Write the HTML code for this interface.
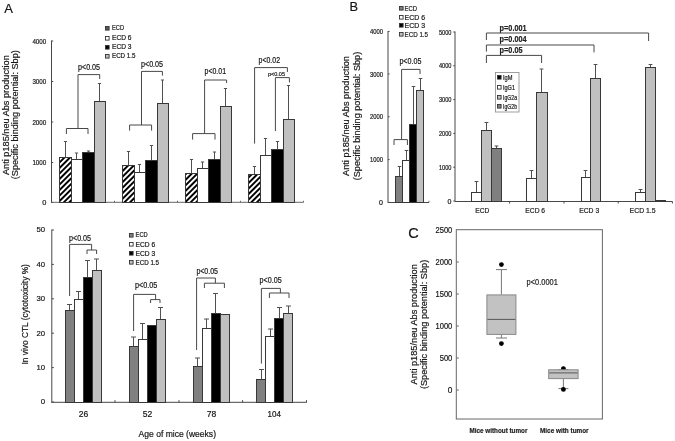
<!DOCTYPE html>
<html><head><meta charset="utf-8"><style>
html,body{margin:0;padding:0;background:#fff;}
svg{display:block;filter:blur(0.3px);}
text{font-family:"Liberation Sans", sans-serif;stroke:#222;stroke-width:0.2px;}
</style></head><body>
<svg width="675" height="441" viewBox="0 0 675 441">
<rect width="675" height="441" fill="#fff"/>
<text x="4.3" y="13.1" font-size="13" text-anchor="start" fill="#111">A</text>
<line x1="51.5" y1="40.5" x2="51.5" y2="203" stroke="#484848" stroke-width="1"/>
<line x1="51.5" y1="41" x2="53.2" y2="41" stroke="#484848" stroke-width="1"/>
<text x="46.3" y="43.6" font-size="7.4" text-anchor="end" textLength="13.9" lengthAdjust="spacingAndGlyphs" fill="#111">4000</text>
<line x1="51.5" y1="81.5" x2="53.2" y2="81.5" stroke="#484848" stroke-width="1"/>
<text x="46.3" y="84.1" font-size="7.4" text-anchor="end" textLength="13.9" lengthAdjust="spacingAndGlyphs" fill="#111">3000</text>
<line x1="51.5" y1="122" x2="53.2" y2="122" stroke="#484848" stroke-width="1"/>
<text x="46.3" y="124.6" font-size="7.4" text-anchor="end" textLength="13.9" lengthAdjust="spacingAndGlyphs" fill="#111">2000</text>
<line x1="51.5" y1="162.5" x2="53.2" y2="162.5" stroke="#484848" stroke-width="1"/>
<text x="46.3" y="165.1" font-size="7.4" text-anchor="end" textLength="13.9" lengthAdjust="spacingAndGlyphs" fill="#111">1000</text>
<line x1="51.5" y1="202.5" x2="53.2" y2="202.5" stroke="#484848" stroke-width="1"/>
<text x="46.3" y="205.1" font-size="7.4" text-anchor="end" fill="#111">0</text>
<line x1="51.5" y1="202.3" x2="303.5" y2="202.3" stroke="#666" stroke-width="1"/>
<line x1="114.5" y1="202.3" x2="114.5" y2="200.8" stroke="#666" stroke-width="1"/>
<line x1="177.5" y1="202.3" x2="177.5" y2="200.8" stroke="#666" stroke-width="1"/>
<line x1="240.5" y1="202.3" x2="240.5" y2="200.8" stroke="#666" stroke-width="1"/>
<line x1="303.5" y1="202.3" x2="303.5" y2="200.8" stroke="#666" stroke-width="1"/>
<defs><pattern id="hatch" patternUnits="userSpaceOnUse" width="3.9" height="3.9" patternTransform="rotate(45)"><rect width="3.9" height="3.9" fill="#fff"/><rect width="1.95" height="3.9" fill="#000"/></pattern></defs>
<rect x="59.5" y="157.5" width="12" height="45.0" fill="url(#hatch)" stroke="#383838" stroke-width="1"/>
<rect x="71.5" y="159.5" width="11" height="43.0" fill="#ffffff" stroke="#383838" stroke-width="1"/>
<rect x="82.5" y="152.5" width="12" height="50.0" fill="#000000" stroke="#383838" stroke-width="1"/>
<rect x="94.5" y="101.5" width="11" height="101.0" fill="#c0c0c0" stroke="#383838" stroke-width="1"/>
<line x1="65.5" y1="157" x2="65.5" y2="141.5" stroke="#505050" stroke-width="1"/>
<line x1="63.9" y1="141.5" x2="67.1" y2="141.5" stroke="#505050" stroke-width="1"/>
<line x1="76.5" y1="159" x2="76.5" y2="153.0" stroke="#505050" stroke-width="1"/>
<line x1="74.9" y1="153.0" x2="78.1" y2="153.0" stroke="#505050" stroke-width="1"/>
<line x1="88.5" y1="152" x2="88.5" y2="151.0" stroke="#505050" stroke-width="1"/>
<line x1="86.9" y1="151.0" x2="90.1" y2="151.0" stroke="#505050" stroke-width="1"/>
<line x1="99.5" y1="101" x2="99.5" y2="83.5" stroke="#505050" stroke-width="1"/>
<line x1="97.9" y1="83.5" x2="101.1" y2="83.5" stroke="#505050" stroke-width="1"/>
<rect x="122.5" y="165.5" width="12" height="37.0" fill="url(#hatch)" stroke="#383838" stroke-width="1"/>
<rect x="134.5" y="172.5" width="11" height="30.0" fill="#ffffff" stroke="#383838" stroke-width="1"/>
<rect x="145.5" y="160.5" width="12" height="42.0" fill="#000000" stroke="#383838" stroke-width="1"/>
<rect x="157.5" y="103.5" width="11" height="99.0" fill="#c0c0c0" stroke="#383838" stroke-width="1"/>
<line x1="128.5" y1="165" x2="128.5" y2="151.5" stroke="#505050" stroke-width="1"/>
<line x1="126.9" y1="151.5" x2="130.1" y2="151.5" stroke="#505050" stroke-width="1"/>
<line x1="139.5" y1="172" x2="139.5" y2="164.5" stroke="#505050" stroke-width="1"/>
<line x1="137.9" y1="164.5" x2="141.1" y2="164.5" stroke="#505050" stroke-width="1"/>
<line x1="151.5" y1="160" x2="151.5" y2="145.5" stroke="#505050" stroke-width="1"/>
<line x1="149.9" y1="145.5" x2="153.1" y2="145.5" stroke="#505050" stroke-width="1"/>
<line x1="162.5" y1="103" x2="162.5" y2="80.0" stroke="#505050" stroke-width="1"/>
<line x1="160.9" y1="80.0" x2="164.1" y2="80.0" stroke="#505050" stroke-width="1"/>
<rect x="185.5" y="173.5" width="12" height="29.0" fill="url(#hatch)" stroke="#383838" stroke-width="1"/>
<rect x="197.5" y="168.5" width="11" height="34.0" fill="#ffffff" stroke="#383838" stroke-width="1"/>
<rect x="208.5" y="159.5" width="12" height="43.0" fill="#000000" stroke="#383838" stroke-width="1"/>
<rect x="220.5" y="106.5" width="11" height="96.0" fill="#c0c0c0" stroke="#383838" stroke-width="1"/>
<line x1="191.5" y1="173" x2="191.5" y2="159.5" stroke="#505050" stroke-width="1"/>
<line x1="189.9" y1="159.5" x2="193.1" y2="159.5" stroke="#505050" stroke-width="1"/>
<line x1="202.5" y1="168" x2="202.5" y2="162.0" stroke="#505050" stroke-width="1"/>
<line x1="200.9" y1="162.0" x2="204.1" y2="162.0" stroke="#505050" stroke-width="1"/>
<line x1="214.5" y1="159" x2="214.5" y2="152.0" stroke="#505050" stroke-width="1"/>
<line x1="212.9" y1="152.0" x2="216.1" y2="152.0" stroke="#505050" stroke-width="1"/>
<line x1="225.5" y1="106" x2="225.5" y2="88.5" stroke="#505050" stroke-width="1"/>
<line x1="223.9" y1="88.5" x2="227.1" y2="88.5" stroke="#505050" stroke-width="1"/>
<rect x="248.5" y="174.5" width="12" height="28.0" fill="url(#hatch)" stroke="#383838" stroke-width="1"/>
<rect x="260.5" y="155.5" width="11" height="47.0" fill="#ffffff" stroke="#383838" stroke-width="1"/>
<rect x="271.5" y="149.5" width="12" height="53.0" fill="#000000" stroke="#383838" stroke-width="1"/>
<rect x="283.5" y="119.5" width="11" height="83.0" fill="#c0c0c0" stroke="#383838" stroke-width="1"/>
<line x1="254.5" y1="174" x2="254.5" y2="166.5" stroke="#505050" stroke-width="1"/>
<line x1="252.9" y1="166.5" x2="256.1" y2="166.5" stroke="#505050" stroke-width="1"/>
<line x1="265.5" y1="155" x2="265.5" y2="138.5" stroke="#505050" stroke-width="1"/>
<line x1="263.9" y1="138.5" x2="267.1" y2="138.5" stroke="#505050" stroke-width="1"/>
<line x1="277.5" y1="149" x2="277.5" y2="141.5" stroke="#505050" stroke-width="1"/>
<line x1="275.9" y1="141.5" x2="279.1" y2="141.5" stroke="#505050" stroke-width="1"/>
<line x1="288.5" y1="119" x2="288.5" y2="85.5" stroke="#505050" stroke-width="1"/>
<line x1="286.9" y1="85.5" x2="290.1" y2="85.5" stroke="#505050" stroke-width="1"/>
<polyline points="66.4,134 66.4,128.5 88,128.5 88,134" fill="none" stroke="#484848" stroke-width="1"/>
<line x1="78" y1="128.5" x2="78" y2="74.6" stroke="#484848" stroke-width="1"/>
<polyline points="78,74.6 99.7,74.6 99.7,79" fill="none" stroke="#484848" stroke-width="1"/>
<text x="78" y="69.7" font-size="8.3" text-anchor="start" textLength="22" lengthAdjust="spacingAndGlyphs" fill="#111">p&lt;0.05</text>
<polyline points="129.6,130.6 129.6,125 151.6,125 151.6,130.6" fill="none" stroke="#484848" stroke-width="1"/>
<line x1="141.5" y1="125" x2="141.5" y2="71.4" stroke="#484848" stroke-width="1"/>
<polyline points="141.5,71.4 162.4,71.4 162.4,75.6" fill="none" stroke="#484848" stroke-width="1"/>
<text x="141" y="67.2" font-size="8.3" text-anchor="start" textLength="22" lengthAdjust="spacingAndGlyphs" fill="#111">p&lt;0.05</text>
<polyline points="192.6,139.6 192.6,133.6 215,133.6 215,139.6" fill="none" stroke="#484848" stroke-width="1"/>
<line x1="204.6" y1="133.6" x2="204.6" y2="80" stroke="#484848" stroke-width="1"/>
<polyline points="204.6,80 226.6,80 226.6,83" fill="none" stroke="#484848" stroke-width="1"/>
<text x="204.6" y="74.2" font-size="8.3" text-anchor="start" textLength="21.4" lengthAdjust="spacingAndGlyphs" fill="#111">p&lt;0.01</text>
<line x1="254.6" y1="143.6" x2="254.6" y2="67.6" stroke="#484848" stroke-width="1"/>
<polyline points="254.6,67.6 287.4,67.6 287.4,72" fill="none" stroke="#484848" stroke-width="1"/>
<text x="258.6" y="62.6" font-size="8.3" text-anchor="start" textLength="21.4" lengthAdjust="spacingAndGlyphs" fill="#111">p&lt;0.02</text>
<line x1="275.4" y1="131" x2="275.4" y2="77.6" stroke="#484848" stroke-width="1"/>
<polyline points="275.4,77.6 289.4,77.6 289.4,82.4" fill="none" stroke="#484848" stroke-width="1"/>
<text x="268" y="75.8" font-size="6" text-anchor="start" textLength="17" lengthAdjust="spacingAndGlyphs" fill="#111">p&lt;0.05</text>
<rect x="105.5" y="26.5" width="3.6" height="3.6" fill="#5a5a5a" stroke="#333" stroke-width="0.9"/>
<text x="112" y="30.1" font-size="6.6" text-anchor="start" textLength="12" lengthAdjust="spacingAndGlyphs" fill="#111">ECD</text>
<rect x="105.5" y="36.5" width="3.6" height="3.6" fill="#fff" stroke="#333" stroke-width="0.9"/>
<text x="112" y="39.5" font-size="6.6" text-anchor="start" textLength="19.5" lengthAdjust="spacingAndGlyphs" fill="#111">ECD 6</text>
<rect x="105.5" y="45.5" width="3.6" height="3.6" fill="#000" stroke="#333" stroke-width="0.9"/>
<text x="112" y="49.1" font-size="6.6" text-anchor="start" textLength="19.5" lengthAdjust="spacingAndGlyphs" fill="#111">ECD 3</text>
<rect x="105.5" y="54.5" width="3.6" height="3.6" fill="#c0c0c0" stroke="#333" stroke-width="0.9"/>
<text x="112" y="58.1" font-size="6.6" text-anchor="start" textLength="23.4" lengthAdjust="spacingAndGlyphs" fill="#111">ECD 1.5</text>
<text transform="translate(8.9,175) scale(1.0,1) rotate(-90)" x="0" y="0" font-size="9.2" textLength="119.8" lengthAdjust="spacingAndGlyphs" fill="#111">Anti p185/neu Abs production</text>
<text transform="translate(18.3,179.3) scale(1.0,1) rotate(-90)" x="0" y="0" font-size="9.2" textLength="129.2" lengthAdjust="spacingAndGlyphs" fill="#111">(Specific binding potential: Sbp)</text>
<line x1="51.8" y1="229.5" x2="51.8" y2="402.8" stroke="#484848" stroke-width="1"/>
<line x1="51.8" y1="230" x2="53.9" y2="230" stroke="#484848" stroke-width="1"/>
<text x="45.1" y="232.3" font-size="7.9" text-anchor="end" textLength="8.6" lengthAdjust="spacingAndGlyphs" fill="#111">50</text>
<line x1="51.8" y1="264.4" x2="53.9" y2="264.4" stroke="#484848" stroke-width="1"/>
<text x="45.1" y="266.7" font-size="7.9" text-anchor="end" textLength="8.6" lengthAdjust="spacingAndGlyphs" fill="#111">40</text>
<line x1="51.8" y1="298.8" x2="53.9" y2="298.8" stroke="#484848" stroke-width="1"/>
<text x="45.1" y="301.1" font-size="7.9" text-anchor="end" textLength="8.6" lengthAdjust="spacingAndGlyphs" fill="#111">30</text>
<line x1="51.8" y1="333.2" x2="53.9" y2="333.2" stroke="#484848" stroke-width="1"/>
<text x="45.1" y="335.5" font-size="7.9" text-anchor="end" textLength="8.6" lengthAdjust="spacingAndGlyphs" fill="#111">20</text>
<line x1="51.8" y1="367.6" x2="53.9" y2="367.6" stroke="#484848" stroke-width="1"/>
<text x="45.1" y="369.90000000000003" font-size="7.9" text-anchor="end" textLength="8.6" lengthAdjust="spacingAndGlyphs" fill="#111">10</text>
<line x1="51.8" y1="402" x2="53.9" y2="402" stroke="#484848" stroke-width="1"/>
<text x="45.1" y="404.3" font-size="7.9" text-anchor="end" fill="#111">0</text>
<line x1="51.8" y1="402.3" x2="306.8" y2="402.3" stroke="#484848" stroke-width="1"/>
<line x1="115" y1="402.3" x2="115" y2="400.2" stroke="#484848" stroke-width="1"/>
<line x1="179" y1="402.3" x2="179" y2="400.2" stroke="#484848" stroke-width="1"/>
<line x1="242.6" y1="402.3" x2="242.6" y2="400.2" stroke="#484848" stroke-width="1"/>
<line x1="306.5" y1="402.3" x2="306.5" y2="400.2" stroke="#484848" stroke-width="1"/>
<rect x="65.5" y="310.5" width="9" height="92.0" fill="#808080" stroke="#383838" stroke-width="1"/>
<rect x="74.5" y="299.5" width="9" height="103.0" fill="#fff" stroke="#383838" stroke-width="1"/>
<rect x="83.5" y="277.5" width="9" height="125.0" fill="#000" stroke="#383838" stroke-width="1"/>
<rect x="92.5" y="270.5" width="9" height="132.0" fill="#c0c0c0" stroke="#383838" stroke-width="1"/>
<line x1="69.5" y1="310" x2="69.5" y2="304.5" stroke="#505050" stroke-width="1"/>
<line x1="67.0" y1="304.5" x2="72.0" y2="304.5" stroke="#505050" stroke-width="1"/>
<line x1="78.5" y1="299" x2="78.5" y2="291.5" stroke="#505050" stroke-width="1"/>
<line x1="76.0" y1="291.5" x2="81.0" y2="291.5" stroke="#505050" stroke-width="1"/>
<line x1="87.5" y1="277" x2="87.5" y2="260.5" stroke="#505050" stroke-width="1"/>
<line x1="85.0" y1="260.5" x2="90.0" y2="260.5" stroke="#505050" stroke-width="1"/>
<line x1="96.5" y1="270" x2="96.5" y2="259.0" stroke="#505050" stroke-width="1"/>
<line x1="94.0" y1="259.0" x2="99.0" y2="259.0" stroke="#505050" stroke-width="1"/>
<rect x="129.5" y="346.5" width="9" height="56.0" fill="#808080" stroke="#383838" stroke-width="1"/>
<rect x="138.5" y="339.5" width="9" height="63.0" fill="#fff" stroke="#383838" stroke-width="1"/>
<rect x="147.5" y="325.5" width="9" height="77.0" fill="#000" stroke="#383838" stroke-width="1"/>
<rect x="156.5" y="319.5" width="9" height="83.0" fill="#c0c0c0" stroke="#383838" stroke-width="1"/>
<line x1="133.5" y1="346" x2="133.5" y2="337.0" stroke="#505050" stroke-width="1"/>
<line x1="131.0" y1="337.0" x2="136.0" y2="337.0" stroke="#505050" stroke-width="1"/>
<line x1="142.5" y1="339" x2="142.5" y2="323.5" stroke="#505050" stroke-width="1"/>
<line x1="140.0" y1="323.5" x2="145.0" y2="323.5" stroke="#505050" stroke-width="1"/>
<line x1="160.5" y1="319" x2="160.5" y2="307.5" stroke="#505050" stroke-width="1"/>
<line x1="158.0" y1="307.5" x2="163.0" y2="307.5" stroke="#505050" stroke-width="1"/>
<rect x="193.5" y="366.5" width="9" height="36.0" fill="#808080" stroke="#383838" stroke-width="1"/>
<rect x="202.5" y="328.5" width="9" height="74.0" fill="#fff" stroke="#383838" stroke-width="1"/>
<rect x="211.5" y="313.5" width="9" height="89.0" fill="#000" stroke="#383838" stroke-width="1"/>
<rect x="220.5" y="314.5" width="9" height="88.0" fill="#c0c0c0" stroke="#383838" stroke-width="1"/>
<line x1="197.5" y1="366" x2="197.5" y2="358.0" stroke="#505050" stroke-width="1"/>
<line x1="195.0" y1="358.0" x2="200.0" y2="358.0" stroke="#505050" stroke-width="1"/>
<line x1="206.5" y1="328" x2="206.5" y2="319.0" stroke="#505050" stroke-width="1"/>
<line x1="204.0" y1="319.0" x2="209.0" y2="319.0" stroke="#505050" stroke-width="1"/>
<line x1="215.5" y1="313" x2="215.5" y2="293.5" stroke="#505050" stroke-width="1"/>
<line x1="213.0" y1="293.5" x2="218.0" y2="293.5" stroke="#505050" stroke-width="1"/>
<rect x="256.5" y="379.5" width="9" height="23.0" fill="#808080" stroke="#383838" stroke-width="1"/>
<rect x="265.5" y="336.5" width="9" height="66.0" fill="#fff" stroke="#383838" stroke-width="1"/>
<rect x="274.5" y="318.5" width="9" height="84.0" fill="#000" stroke="#383838" stroke-width="1"/>
<rect x="283.5" y="313.5" width="9" height="89.0" fill="#c0c0c0" stroke="#383838" stroke-width="1"/>
<line x1="261.5" y1="379" x2="261.5" y2="369.5" stroke="#505050" stroke-width="1"/>
<line x1="259.0" y1="369.5" x2="264.0" y2="369.5" stroke="#505050" stroke-width="1"/>
<line x1="270.5" y1="336" x2="270.5" y2="329.0" stroke="#505050" stroke-width="1"/>
<line x1="268.0" y1="329.0" x2="273.0" y2="329.0" stroke="#505050" stroke-width="1"/>
<line x1="279.5" y1="318" x2="279.5" y2="307.5" stroke="#505050" stroke-width="1"/>
<line x1="277.0" y1="307.5" x2="282.0" y2="307.5" stroke="#505050" stroke-width="1"/>
<line x1="288.5" y1="313" x2="288.5" y2="306.0" stroke="#505050" stroke-width="1"/>
<line x1="286.0" y1="306.0" x2="291.0" y2="306.0" stroke="#505050" stroke-width="1"/>
<text x="69" y="241.2" font-size="8.3" text-anchor="start" textLength="22" lengthAdjust="spacingAndGlyphs" fill="#111">p&lt;0.05</text>
<polyline points="69.6,296 69.6,244.4 91.6,244.4 91.6,250" fill="none" stroke="#484848" stroke-width="1"/>
<polyline points="87,254 87,250 96.6,250 96.6,254" fill="none" stroke="#484848" stroke-width="1"/>
<text x="135" y="288.4" font-size="8.3" text-anchor="start" textLength="22.400000000000006" lengthAdjust="spacingAndGlyphs" fill="#111">p&lt;0.05</text>
<polyline points="133.6,331 133.6,294.4 155.6,294.4 155.6,299.6" fill="none" stroke="#484848" stroke-width="1"/>
<polyline points="150.6,303 150.6,299.6 160,299.6 160,303" fill="none" stroke="#484848" stroke-width="1"/>
<text x="196.4" y="274.4" font-size="8.3" text-anchor="start" textLength="21.599999999999994" lengthAdjust="spacingAndGlyphs" fill="#111">p&lt;0.05</text>
<polyline points="196.6,350 196.6,278 215.4,278 215.4,283.2" fill="none" stroke="#484848" stroke-width="1"/>
<polyline points="204.4,288 204.4,283.2 224.4,283.2 224.4,288" fill="none" stroke="#484848" stroke-width="1"/>
<text x="259.6" y="283.4" font-size="8.3" text-anchor="start" textLength="22.0" lengthAdjust="spacingAndGlyphs" fill="#111">p&lt;0.05</text>
<polyline points="261.4,363.6 261.4,288.4 280.4,288.4 280.4,293" fill="none" stroke="#484848" stroke-width="1"/>
<polyline points="269.4,298 269.4,293 289,293 289,298" fill="none" stroke="#484848" stroke-width="1"/>
<rect x="129.5" y="233.5" width="3.6" height="3.6" fill="#808080" stroke="#333" stroke-width="0.9"/>
<text x="135.6" y="237.3" font-size="6.6" text-anchor="start" textLength="12" lengthAdjust="spacingAndGlyphs" fill="#111">ECD</text>
<rect x="129.5" y="242.5" width="3.6" height="3.6" fill="#fff" stroke="#333" stroke-width="0.9"/>
<text x="135.6" y="246.5" font-size="6.6" text-anchor="start" textLength="19.5" lengthAdjust="spacingAndGlyphs" fill="#111">ECD 6</text>
<rect x="129.5" y="251.5" width="3.6" height="3.6" fill="#000" stroke="#333" stroke-width="0.9"/>
<text x="135.6" y="255.7" font-size="6.6" text-anchor="start" textLength="19.5" lengthAdjust="spacingAndGlyphs" fill="#111">ECD 3</text>
<rect x="129.5" y="260.5" width="3.6" height="3.6" fill="#c0c0c0" stroke="#333" stroke-width="0.9"/>
<text x="135.6" y="264.9" font-size="6.6" text-anchor="start" textLength="23.4" lengthAdjust="spacingAndGlyphs" fill="#111">ECD 1.5</text>
<text transform="translate(27.6,364.6) scale(1.0,1) rotate(-90)" x="0" y="0" font-size="8.9" textLength="100.5" lengthAdjust="spacingAndGlyphs" fill="#111">In vivo CTL (cytotoxicity %)</text>
<text x="78.7" y="417.2" font-size="8.6" text-anchor="start" textLength="9.5" lengthAdjust="spacingAndGlyphs" fill="#111">26</text>
<text x="142.7" y="417.2" font-size="8.6" text-anchor="start" textLength="9.5" lengthAdjust="spacingAndGlyphs" fill="#111">52</text>
<text x="206.7" y="417.2" font-size="8.6" text-anchor="start" textLength="9.5" lengthAdjust="spacingAndGlyphs" fill="#111">78</text>
<text x="267.5" y="417.2" font-size="8.6" text-anchor="start" textLength="13.4" lengthAdjust="spacingAndGlyphs" fill="#111">104</text>
<text x="138.6" y="437" font-size="9" text-anchor="start" textLength="77.4" lengthAdjust="spacingAndGlyphs" fill="#111">Age of mice (weeks)</text>
<text x="349.6" y="10.9" font-size="12.8" text-anchor="start" fill="#111">B</text>
<line x1="388" y1="31" x2="388" y2="202.8" stroke="#484848" stroke-width="1"/>
<line x1="388" y1="31.4" x2="389.6" y2="31.4" stroke="#484848" stroke-width="1"/>
<text x="383" y="33.9" font-size="7" text-anchor="end" textLength="13" lengthAdjust="spacingAndGlyphs" fill="#111">4000</text>
<line x1="388" y1="74" x2="389.6" y2="74" stroke="#484848" stroke-width="1"/>
<text x="383" y="76.5" font-size="7" text-anchor="end" textLength="13" lengthAdjust="spacingAndGlyphs" fill="#111">3000</text>
<line x1="388" y1="116.8" x2="389.6" y2="116.8" stroke="#484848" stroke-width="1"/>
<text x="383" y="119.3" font-size="7" text-anchor="end" textLength="13" lengthAdjust="spacingAndGlyphs" fill="#111">2000</text>
<line x1="388" y1="159.6" x2="389.6" y2="159.6" stroke="#484848" stroke-width="1"/>
<text x="383" y="162.1" font-size="7" text-anchor="end" textLength="13" lengthAdjust="spacingAndGlyphs" fill="#111">1000</text>
<line x1="388" y1="202.4" x2="389.6" y2="202.4" stroke="#484848" stroke-width="1"/>
<text x="383" y="204.9" font-size="7" text-anchor="end" fill="#111">0</text>
<line x1="388" y1="202.5" x2="429" y2="202.5" stroke="#484848" stroke-width="1"/>
<line x1="429" y1="202.3" x2="429" y2="200.8" stroke="#666" stroke-width="1"/>
<rect x="395.5" y="176.5" width="7" height="26.0" fill="#808080" stroke="#383838" stroke-width="1"/>
<rect x="402.5" y="160.5" width="7" height="42.0" fill="#fff" stroke="#383838" stroke-width="1"/>
<rect x="409.5" y="124.5" width="7" height="78.0" fill="#000" stroke="#383838" stroke-width="1"/>
<rect x="416.5" y="90.5" width="7" height="112.0" fill="#c0c0c0" stroke="#383838" stroke-width="1"/>
<line x1="399.5" y1="176" x2="399.5" y2="166.5" stroke="#505050" stroke-width="1"/>
<line x1="397.7" y1="166.5" x2="401.3" y2="166.5" stroke="#505050" stroke-width="1"/>
<line x1="406.5" y1="160" x2="406.5" y2="150.5" stroke="#505050" stroke-width="1"/>
<line x1="404.7" y1="150.5" x2="408.3" y2="150.5" stroke="#505050" stroke-width="1"/>
<line x1="413.5" y1="124" x2="413.5" y2="86.5" stroke="#505050" stroke-width="1"/>
<line x1="411.7" y1="86.5" x2="415.3" y2="86.5" stroke="#505050" stroke-width="1"/>
<line x1="420.5" y1="90" x2="420.5" y2="78.5" stroke="#505050" stroke-width="1"/>
<line x1="418.7" y1="78.5" x2="422.3" y2="78.5" stroke="#505050" stroke-width="1"/>
<polyline points="394,145 394,139.6 407.4,139.6 407.4,145" fill="none" stroke="#484848" stroke-width="1"/>
<line x1="401.6" y1="139.6" x2="401.6" y2="69.4" stroke="#484848" stroke-width="1"/>
<polyline points="401.6,69.4 420,69.4 420,74" fill="none" stroke="#484848" stroke-width="1"/>
<text x="399.4" y="64.3" font-size="8.3" text-anchor="start" textLength="22" lengthAdjust="spacingAndGlyphs" fill="#111">p&lt;0.05</text>
<rect x="399.5" y="6.5" width="3.6" height="3.6" fill="#808080" stroke="#333" stroke-width="0.9"/>
<text x="404.6" y="10.9" font-size="7.5" text-anchor="start" textLength="12.5" lengthAdjust="spacingAndGlyphs" fill="#111">ECD</text>
<rect x="399.5" y="15.5" width="3.6" height="3.6" fill="#fff" stroke="#333" stroke-width="0.9"/>
<text x="404.6" y="20.1" font-size="7.5" text-anchor="start" textLength="20.5" lengthAdjust="spacingAndGlyphs" fill="#111">ECD 6</text>
<rect x="399.5" y="23.5" width="3.6" height="3.6" fill="#000" stroke="#333" stroke-width="0.9"/>
<text x="404.6" y="28.1" font-size="7.5" text-anchor="start" textLength="20.5" lengthAdjust="spacingAndGlyphs" fill="#111">ECD 3</text>
<rect x="399.5" y="32.5" width="3.6" height="3.6" fill="#c0c0c0" stroke="#333" stroke-width="0.9"/>
<text x="404.6" y="36.5" font-size="7.5" text-anchor="start" textLength="23.4" lengthAdjust="spacingAndGlyphs" fill="#111">ECD 1.5</text>
<text transform="translate(349.4,175.9) scale(1.0,1) rotate(-90)" x="0" y="0" font-size="9.2" textLength="119.8" lengthAdjust="spacingAndGlyphs" fill="#111">Anti p185/neu Abs production</text>
<text transform="translate(359.9,180.3) scale(1.0,1) rotate(-90)" x="0" y="0" font-size="9.2" textLength="128.5" lengthAdjust="spacingAndGlyphs" fill="#111">(Specific binding potential: Sbp)</text>
<line x1="455" y1="31.5" x2="455" y2="201.5" stroke="#484848" stroke-width="1"/>
<line x1="453.3" y1="32" x2="455" y2="32" stroke="#484848" stroke-width="1"/>
<text x="451.5" y="34.5" font-size="7" text-anchor="end" textLength="12.5" lengthAdjust="spacingAndGlyphs" fill="#111">5000</text>
<line x1="453.3" y1="65.8" x2="455" y2="65.8" stroke="#484848" stroke-width="1"/>
<text x="451.5" y="68.3" font-size="7" text-anchor="end" textLength="12.5" lengthAdjust="spacingAndGlyphs" fill="#111">4000</text>
<line x1="453.3" y1="99.6" x2="455" y2="99.6" stroke="#484848" stroke-width="1"/>
<text x="451.5" y="102.1" font-size="7" text-anchor="end" textLength="12.5" lengthAdjust="spacingAndGlyphs" fill="#111">3000</text>
<line x1="453.3" y1="133.4" x2="455" y2="133.4" stroke="#484848" stroke-width="1"/>
<text x="451.5" y="135.9" font-size="7" text-anchor="end" textLength="12.5" lengthAdjust="spacingAndGlyphs" fill="#111">2000</text>
<line x1="453.3" y1="167.2" x2="455" y2="167.2" stroke="#484848" stroke-width="1"/>
<text x="451.5" y="169.7" font-size="7" text-anchor="end" textLength="12.5" lengthAdjust="spacingAndGlyphs" fill="#111">1000</text>
<line x1="453.3" y1="201" x2="455" y2="201" stroke="#484848" stroke-width="1"/>
<text x="451.5" y="203.5" font-size="7" text-anchor="end" fill="#111">0</text>
<line x1="455" y1="201.5" x2="672.5" y2="201.5" stroke="#484848" stroke-width="1"/>
<line x1="509.6" y1="201.5" x2="509.6" y2="203.5" stroke="#484848" stroke-width="1"/>
<line x1="564" y1="201.5" x2="564" y2="203.5" stroke="#484848" stroke-width="1"/>
<line x1="618.2" y1="201.5" x2="618.2" y2="203.5" stroke="#484848" stroke-width="1"/>
<line x1="672.4" y1="201.5" x2="672.4" y2="203.5" stroke="#484848" stroke-width="1"/>
<rect x="471.5" y="192.5" width="10" height="9.0" fill="#fff" stroke="#383838" stroke-width="1"/>
<rect x="481.5" y="130.5" width="10" height="71.0" fill="#c0c0c0" stroke="#383838" stroke-width="1"/>
<rect x="491.5" y="148.5" width="10" height="53.0" fill="#808080" stroke="#383838" stroke-width="1"/>
<rect x="526.5" y="178.5" width="10" height="23.0" fill="#fff" stroke="#383838" stroke-width="1"/>
<rect x="536.5" y="92.5" width="11" height="109.0" fill="#c0c0c0" stroke="#383838" stroke-width="1"/>
<rect x="581.5" y="177.5" width="9" height="24.0" fill="#fff" stroke="#383838" stroke-width="1"/>
<rect x="590.5" y="78.5" width="10" height="123.0" fill="#c0c0c0" stroke="#383838" stroke-width="1"/>
<rect x="635.5" y="192.5" width="10" height="9.0" fill="#fff" stroke="#383838" stroke-width="1"/>
<rect x="645.5" y="67.5" width="10" height="134.0" fill="#c0c0c0" stroke="#383838" stroke-width="1"/>
<rect x="655.5" y="200.5" width="10" height="1.0" fill="#808080" stroke="#383838" stroke-width="1"/>
<line x1="476.5" y1="192" x2="476.5" y2="181.5" stroke="#505050" stroke-width="1"/>
<line x1="474.6" y1="181.5" x2="478.4" y2="181.5" stroke="#505050" stroke-width="1"/>
<line x1="486.5" y1="130" x2="486.5" y2="122.5" stroke="#505050" stroke-width="1"/>
<line x1="484.6" y1="122.5" x2="488.4" y2="122.5" stroke="#505050" stroke-width="1"/>
<line x1="496.5" y1="148" x2="496.5" y2="146.0" stroke="#505050" stroke-width="1"/>
<line x1="494.6" y1="146.0" x2="498.4" y2="146.0" stroke="#505050" stroke-width="1"/>
<line x1="531.5" y1="178" x2="531.5" y2="170.5" stroke="#505050" stroke-width="1"/>
<line x1="529.6" y1="170.5" x2="533.4" y2="170.5" stroke="#505050" stroke-width="1"/>
<line x1="541.5" y1="92" x2="541.5" y2="69.0" stroke="#505050" stroke-width="1"/>
<line x1="539.6" y1="69.0" x2="543.4" y2="69.0" stroke="#505050" stroke-width="1"/>
<line x1="585.5" y1="177" x2="585.5" y2="170.5" stroke="#505050" stroke-width="1"/>
<line x1="583.6" y1="170.5" x2="587.4" y2="170.5" stroke="#505050" stroke-width="1"/>
<line x1="595.5" y1="78" x2="595.5" y2="64.5" stroke="#505050" stroke-width="1"/>
<line x1="593.6" y1="64.5" x2="597.4" y2="64.5" stroke="#505050" stroke-width="1"/>
<line x1="640.5" y1="192" x2="640.5" y2="189.5" stroke="#505050" stroke-width="1"/>
<line x1="638.6" y1="189.5" x2="642.4" y2="189.5" stroke="#505050" stroke-width="1"/>
<line x1="650.5" y1="67" x2="650.5" y2="64.5" stroke="#505050" stroke-width="1"/>
<line x1="648.6" y1="64.5" x2="652.4" y2="64.5" stroke="#505050" stroke-width="1"/>
<text x="475.3" y="212.8" font-size="7.3" text-anchor="start" textLength="14.1" lengthAdjust="spacingAndGlyphs" fill="#1a1a1a">ECD</text>
<text x="525.3000000000001" y="212.8" font-size="7.3" text-anchor="start" textLength="19.8" lengthAdjust="spacingAndGlyphs" fill="#1a1a1a">ECD 6</text>
<text x="579.2" y="212.8" font-size="7.3" text-anchor="start" textLength="20.0" lengthAdjust="spacingAndGlyphs" fill="#1a1a1a">ECD 3</text>
<text x="629.6" y="212.8" font-size="7.3" text-anchor="start" textLength="26.0" lengthAdjust="spacingAndGlyphs" fill="#1a1a1a">ECD 1.5</text>
<text x="499.6" y="30.6" font-size="8.5" text-anchor="start" textLength="27" lengthAdjust="spacingAndGlyphs" font-weight="bold" fill="#222">p=0.001</text>
<polyline points="486.4,40 486.4,33 648.6,33 648.6,41" fill="none" stroke="#484848" stroke-width="1"/>
<text x="499.6" y="42.4" font-size="8.5" text-anchor="start" textLength="27" lengthAdjust="spacingAndGlyphs" font-weight="bold" fill="#222">p=0.004</text>
<polyline points="486.4,51.6 486.4,45 594,45 594,52.4" fill="none" stroke="#484848" stroke-width="1"/>
<text x="499.6" y="53.4" font-size="8.5" text-anchor="start" textLength="23" lengthAdjust="spacingAndGlyphs" font-weight="bold" fill="#222">p=0.05</text>
<polyline points="486.4,63 486.4,55.4 541.6,55.4 541.6,63" fill="none" stroke="#484848" stroke-width="1"/>
<rect x="495.5" y="72.5" width="23.5" height="39.5" fill="#fff" stroke="#888" stroke-width="0.8"/>
<rect x="497.5" y="75.5" width="3.6" height="3.6" fill="#000" stroke="#333" stroke-width="0.9"/>
<text x="503" y="80.1" font-size="6.5" text-anchor="start" textLength="9.5" lengthAdjust="spacingAndGlyphs" fill="#111">IgM</text>
<rect x="497.5" y="85.5" width="3.6" height="3.6" fill="#fff" stroke="#333" stroke-width="0.9"/>
<text x="503" y="89.5" font-size="6.5" text-anchor="start" textLength="12" lengthAdjust="spacingAndGlyphs" fill="#111">IgG1</text>
<rect x="497.5" y="95.5" width="3.6" height="3.6" fill="#c0c0c0" stroke="#333" stroke-width="0.9"/>
<text x="503" y="99.5" font-size="6.5" text-anchor="start" textLength="14" lengthAdjust="spacingAndGlyphs" fill="#111">IgG2a</text>
<rect x="497.5" y="104.5" width="3.6" height="3.6" fill="#808080" stroke="#333" stroke-width="0.9"/>
<text x="503" y="109.1" font-size="6.5" text-anchor="start" textLength="14" lengthAdjust="spacingAndGlyphs" fill="#111">IgG2b</text>
<text x="408.2" y="238.2" font-size="14.5" text-anchor="start" fill="#111">C</text>
<rect x="456.3" y="229.7" width="146.1" height="189.3" fill="none" stroke="#666" stroke-width="1"/>
<text x="452.3" y="232.95" font-size="8.3" text-anchor="end" textLength="16.8" lengthAdjust="spacingAndGlyphs" fill="#111">2500</text>
<line x1="456.3" y1="262" x2="458.8" y2="262" stroke="#666" stroke-width="1"/>
<text x="452.3" y="264.95" font-size="8.3" text-anchor="end" textLength="16.8" lengthAdjust="spacingAndGlyphs" fill="#111">2000</text>
<line x1="456.3" y1="294" x2="458.8" y2="294" stroke="#666" stroke-width="1"/>
<text x="452.3" y="296.95" font-size="8.3" text-anchor="end" textLength="16.8" lengthAdjust="spacingAndGlyphs" fill="#111">1500</text>
<line x1="456.3" y1="326" x2="458.8" y2="326" stroke="#666" stroke-width="1"/>
<text x="452.3" y="328.95" font-size="8.3" text-anchor="end" textLength="16.8" lengthAdjust="spacingAndGlyphs" fill="#111">1000</text>
<line x1="456.3" y1="358" x2="458.8" y2="358" stroke="#666" stroke-width="1"/>
<text x="452.3" y="360.95" font-size="8.3" text-anchor="end" textLength="12.6" lengthAdjust="spacingAndGlyphs" fill="#111">500</text>
<line x1="456.3" y1="390" x2="458.8" y2="390" stroke="#666" stroke-width="1"/>
<text x="452.3" y="392.95" font-size="8.3" text-anchor="end" fill="#111">0</text>
<line x1="501.4" y1="294.4" x2="501.4" y2="269.6" stroke="#777" stroke-width="1"/>
<line x1="496" y1="269.6" x2="507" y2="269.6" stroke="#777" stroke-width="1"/>
<line x1="501.4" y1="334.4" x2="501.4" y2="338" stroke="#777" stroke-width="1"/>
<line x1="496" y1="338" x2="507" y2="338" stroke="#777" stroke-width="1"/>
<circle cx="501.4" cy="264.6" r="2.4" fill="#000"/>
<circle cx="501.4" cy="343.6" r="2.4" fill="#000"/>
<rect x="486.9" y="294.9" width="29.0" height="39.5" fill="#c2c2c2" stroke="#888" stroke-width="1"/>
<line x1="487.4" y1="319.4" x2="515.4" y2="319.4" stroke="#555" stroke-width="1"/>
<line x1="563.4000000000001" y1="369.3" x2="563.4000000000001" y2="369.6" stroke="#777" stroke-width="1"/>
<line x1="558.4" y1="369.6" x2="568.4" y2="369.6" stroke="#777" stroke-width="1"/>
<line x1="563.4000000000001" y1="378.6" x2="563.4000000000001" y2="388.6" stroke="#777" stroke-width="1"/>
<line x1="558.4" y1="388.6" x2="568.4" y2="388.6" stroke="#777" stroke-width="1"/>
<circle cx="563.4000000000001" cy="368.6" r="2.4" fill="#000"/>
<circle cx="563.4000000000001" cy="389.4" r="2.4" fill="#000"/>
<rect x="548.7" y="369.8" width="29.399999999999977" height="8.800000000000011" fill="#c2c2c2" stroke="#888" stroke-width="1"/>
<line x1="549.2" y1="372.9" x2="577.6" y2="372.9" stroke="#555" stroke-width="1"/>
<text x="526.6" y="285.1" font-size="8.5" text-anchor="start" textLength="31.2" lengthAdjust="spacingAndGlyphs" fill="#222">p&lt;0.0001</text>
<text x="469.6" y="432.6" font-size="7" text-anchor="start" textLength="57.8" lengthAdjust="spacingAndGlyphs" font-weight="bold" fill="#222">Mice without tumor</text>
<text x="540" y="432.6" font-size="7" text-anchor="start" textLength="48.6" lengthAdjust="spacingAndGlyphs" font-weight="bold" fill="#222">Mice with tumor</text>
<text transform="translate(417.2,384.4) scale(1.0,1) rotate(-90)" x="0" y="0" font-size="9.2" textLength="120.2" lengthAdjust="spacingAndGlyphs" fill="#111">Anti p185/neu Abs production</text>
<text transform="translate(427.4,389.1) scale(1.0,1) rotate(-90)" x="0" y="0" font-size="9.2" textLength="129.3" lengthAdjust="spacingAndGlyphs" fill="#111">(Specific binding potential: Sbp)</text>
</svg>
</body></html>
